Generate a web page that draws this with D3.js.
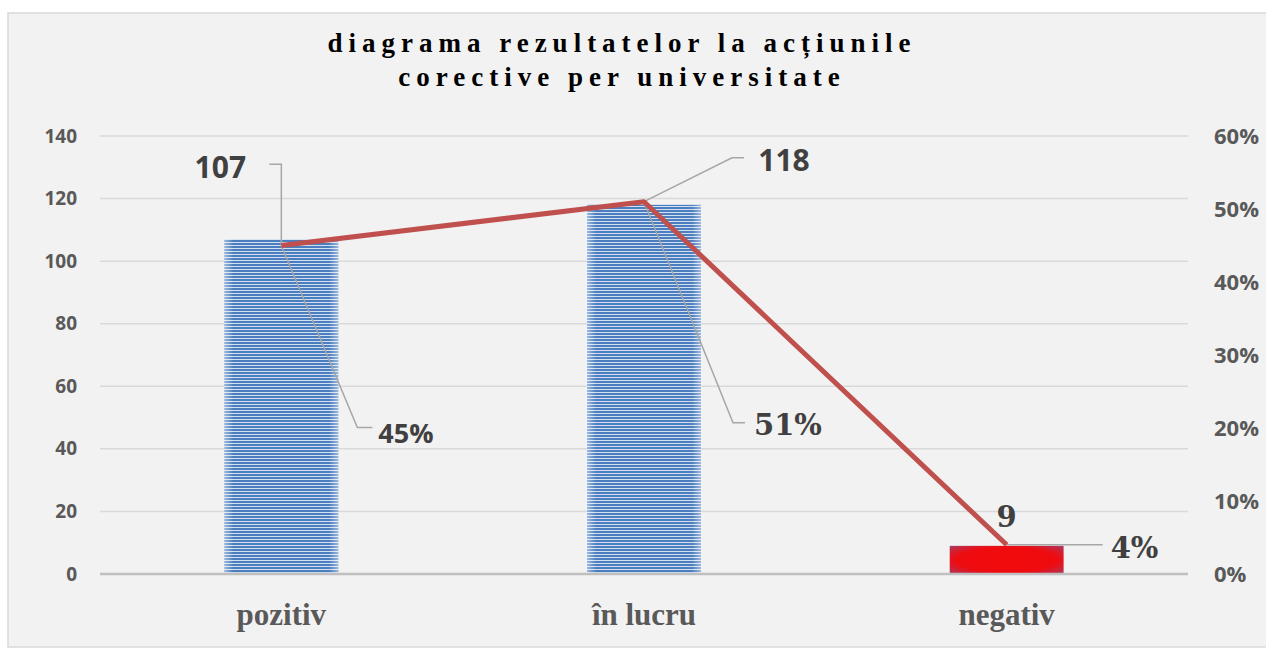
<!DOCTYPE html>
<html><head><meta charset="utf-8">
<script src="https://cdn.jsdelivr.net/npm/d3@7"></script>
<style>body{margin:0;background:#fff}svg{display:block}</style>
</head><body>
<script>
const categories = ["pozitiv", "în lucru", "negativ"];
const counts = [107, 118, 9];
const shares = [0.45, 0.51, 0.04];
const shareLabels = ["45%", "51%", "4%"];
const leftTicks = [0, 20, 40, 60, 80, 100, 120, 140];
const rightTicks = [0, 0.1, 0.2, 0.3, 0.4, 0.5, 0.6];
const titleLines = ["diagrama rezultatelor la acțiunile", "corective per universitate"];

const W = 1266, H = 650;
const svg = d3.select("body").append("svg").attr("width", W).attr("height", H);
const defs = svg.append("defs");

const pat = defs.append("pattern").attr("id","stripes").attr("patternUnits","userSpaceOnUse")
  .attr("width", 8).attr("height", 3);
pat.append("rect").attr("width",8).attr("height",3).attr("fill","#d3dff0");
pat.append("rect").attr("width",8).attr("height",2).attr("fill","#4a7ebf");
const edge = defs.append("linearGradient").attr("id","edgeFade").attr("x1","0").attr("x2","1");
edge.append("stop").attr("offset","0").attr("stop-color","#fff").attr("stop-opacity",0.45);
edge.append("stop").attr("offset","0.08").attr("stop-color","#fff").attr("stop-opacity",0);
edge.append("stop").attr("offset","0.92").attr("stop-color","#fff").attr("stop-opacity",0);
edge.append("stop").attr("offset","1").attr("stop-color","#fff").attr("stop-opacity",0.45);
const rg = defs.append("radialGradient").attr("id","redGlow").attr("cx","0.5").attr("cy","0.5").attr("r","0.72");
rg.append("stop").attr("offset","0").attr("stop-color","#f20a0a");
rg.append("stop").attr("offset","0.62").attr("stop-color","#ee0c10");
rg.append("stop").attr("offset","0.9").attr("stop-color","#b83050");
rg.append("stop").attr("offset","1").attr("stop-color","#9a5080");

svg.append("rect").attr("x",8).attr("y",13).attr("width",1300).attr("height",634)
  .attr("fill","#f2f2f2").attr("stroke","#d9d9d9").attr("stroke-width",1.5);

const x0 = 100, x1 = 1188;
const x = d3.scaleBand().domain(categories).range([x0, x1]).paddingInner(0.686).paddingOuter(0.343);
const y = d3.scaleLinear().domain([0, 140]).range([574, 136]);
const y2 = d3.scaleLinear().domain([0, 0.6]).range([574, 136]);

svg.append("g").selectAll("line").data(leftTicks.slice(1)).join("line")
  .attr("x1", x0).attr("x2", x1).attr("y1", d=>y(d)).attr("y2", d=>y(d))
  .attr("stroke","#d9d9d9").attr("stroke-width",1.5);

const la = svg.append("g").attr("transform",`translate(${x0},0)`)
  .call(d3.axisLeft(y).tickValues(leftTicks).tickSize(0).tickPadding(23));
la.select(".domain").remove();
la.selectAll("text").attr("font-family","'Open Sans', sans-serif").attr("font-weight","bold")
  .attr("font-size",19).attr("fill","#595959");

const ra = svg.append("g").attr("transform",`translate(${x1},0)`)
  .call(d3.axisRight(y2).tickValues(rightTicks).tickFormat(d3.format(".0%")).tickSize(0).tickPadding(26));
ra.select(".domain").remove();
ra.selectAll("text").attr("font-family","'Open Sans', sans-serif").attr("font-weight","bold")
  .attr("font-size",22).attr("fill","#595959");

const bars = svg.append("g");
categories.forEach((c,i)=>{
  const bx = x(c), bw = x.bandwidth(), by = y(counts[i]), bh = y(0)-y(counts[i]);
  if (i < 2) {
    bars.append("rect").attr("x",bx).attr("y",by).attr("width",bw).attr("height",bh).attr("fill","url(#stripes)");
    bars.append("rect").attr("x",bx).attr("y",by).attr("width",bw).attr("height",bh).attr("fill","url(#edgeFade)");
  } else {
    bars.append("rect").attr("x",bx).attr("y",by).attr("width",bw).attr("height",bh).attr("fill","url(#redGlow)");
  }
});

svg.append("line").attr("x1",x0).attr("x2",x1).attr("y1",y(0)).attr("y2",y(0))
  .attr("stroke","#bfbfbf").attr("stroke-width",2.5);

const cx = c => x(c) + x.bandwidth()/2;

const leaders = svg.append("g").attr("fill","none").attr("stroke","#a6a6a6").attr("stroke-width",1.5);
leaders.append("path").attr("d", `M${cx(categories[0])-12},${y(counts[0])-75} H${cx(categories[0])} V${y2(shares[0])}`);
leaders.append("path").attr("d", `M${cx(categories[1])+100},${y(counts[1])-47} H${cx(categories[1])+88} L${cx(categories[1])},${y2(shares[1])}`);
leaders.append("path").attr("d", `M${cx(categories[0])},${y2(shares[0])} L${cx(categories[0])+76},${y2(shares[0])+182} H${cx(categories[0])+91}`);
leaders.append("path").attr("d", `M${cx(categories[1])},${y2(shares[1])} L${cx(categories[1])+89},${y2(shares[1])+221} H${cx(categories[1])+101}`);
leaders.append("path").attr("d", `M${cx(categories[2])},${y2(shares[2])} H${cx(categories[2])+96}`);

svg.append("path").datum(shares)
  .attr("d", d3.line().x((d,i)=>cx(categories[i])).y(d=>y2(d)))
  .attr("fill","none").attr("stroke","#c0504d").attr("stroke-width",5).attr("stroke-linejoin","round");

const lab = svg.append("g").attr("font-weight","bold").attr("fill","#404040");
lab.append("text").attr("x", cx(categories[0])-61).attr("y", y(counts[0])-61).attr("text-anchor","middle")
  .attr("font-family","'Open Sans', sans-serif").attr("font-size",30).text(counts[0]);
lab.append("text").attr("x", cx(categories[1])+140).attr("y", y(counts[1])-34).attr("text-anchor","middle")
  .attr("font-family","'Open Sans', sans-serif").attr("font-size",30).text(counts[1]);
lab.append("text").attr("x", cx(categories[2])).attr("y", y(counts[2])-19).attr("text-anchor","middle")
  .attr("font-family","'DejaVu Serif', serif").attr("font-size",29).text(counts[2]);
lab.append("text").attr("x", cx(categories[0])+97).attr("y", y2(shares[0])+197)
  .attr("font-family","'Open Sans', sans-serif").attr("font-size",27).text(shareLabels[0]);
lab.append("text").attr("x", cx(categories[1])+110).attr("y", y2(shares[1])+233)
  .attr("font-family","'DejaVu Serif', serif").attr("font-size",29).text(shareLabels[1]);
lab.append("text").attr("x", cx(categories[2])+104).attr("y", y2(shares[2])+13)
  .attr("font-family","'DejaVu Serif', serif").attr("font-size",29).text(shareLabels[2]);

svg.append("g").selectAll("text").data(categories).join("text")
  .attr("x", d=>cx(d)).attr("y", 625).attr("text-anchor","middle")
  .attr("font-family","'Liberation Serif', serif").attr("font-weight","bold").attr("font-size",31)
  .attr("fill","#595959").text(d=>d);

svg.append("g").selectAll("text").data(titleLines).join("text")
  .attr("x", 622).attr("y",(d,i)=>52+i*34).attr("text-anchor","middle")
  .attr("font-family","'Liberation Serif', serif").attr("font-weight","bold").attr("font-size",27)
  .attr("letter-spacing", 6).attr("fill","#000").text(d=>d);
</script>
</body></html>
